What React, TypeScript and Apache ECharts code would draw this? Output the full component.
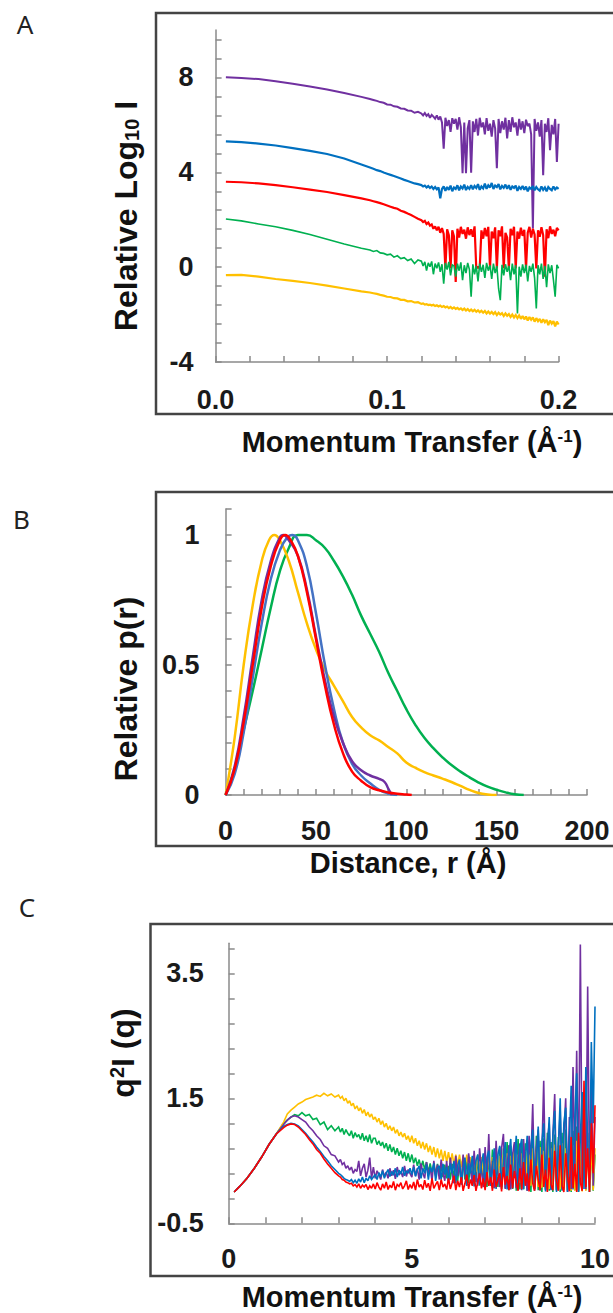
import React, { useEffect, useRef } from "react";
import * as echarts from "echarts";

// ---------- Panel A : log intensity vs q ----------
const qA = [
  0.006, 0.015, 0.025, 0.035, 0.045, 0.055, 0.065, 0.075, 0.085,
  0.090, 0.092, 0.094, 0.096, 0.098, 0.100, 0.102, 0.104, 0.106, 0.108,
  0.110, 0.112, 0.114, 0.116, 0.118,
  0.120, 0.121, 0.122, 0.123, 0.124, 0.125, 0.126, 0.127, 0.128, 0.129,
  0.130, 0.131, 0.132, 0.133, 0.134, 0.135, 0.136, 0.137, 0.138, 0.139,
  0.140, 0.141, 0.142, 0.143, 0.144, 0.145, 0.146, 0.147, 0.148, 0.149,
  0.150, 0.151, 0.152, 0.153, 0.154, 0.155, 0.156, 0.157, 0.158, 0.159,
  0.160, 0.161, 0.162, 0.163, 0.164, 0.165, 0.166, 0.167, 0.168, 0.169,
  0.170, 0.171, 0.172, 0.173, 0.174, 0.175, 0.176, 0.177, 0.178, 0.179,
  0.180, 0.181, 0.182, 0.183, 0.184, 0.185, 0.186, 0.187, 0.188, 0.189,
  0.190, 0.191, 0.192, 0.193, 0.194, 0.195, 0.196, 0.197, 0.198, 0.199,
  0.200,
];
const purpleA = [
  8.01, 7.98, 7.93, 7.84, 7.73, 7.62, 7.49, 7.34, 7.18,
  7.09, 7.05, 7.01, 6.96, 6.93, 6.86, 6.85, 6.78, 6.76, 6.69,
  6.68, 6.61, 6.6, 6.51, 6.55,
  6.48, 6.40, 6.50, 6.38, 6.45, 6.30, 6.42, 6.35, 6.26, 6.40,
  6.22, 6.35, 6.10, 5.00, 6.30, 5.95, 6.20, 5.70, 6.28, 6.05,
  6.25, 5.80, 6.32, 5.90, 3.96, 6.10, 3.96, 5.85, 6.20, 3.98,
  6.15, 5.70, 6.25, 5.55, 6.30, 5.90, 6.10, 5.60, 6.28, 5.75,
  6.05, 5.50, 6.20, 5.85, 4.17, 6.25, 5.65, 6.15, 5.80, 6.30,
  5.43, 6.20, 5.70, 6.32, 5.90, 6.10, 5.55, 6.25, 5.80, 6.15,
  5.65, 6.22, 5.95, 6.05, 5.60, 1.63, 6.25, 5.75, 6.10, 5.50,
  6.20, 3.88, 6.05, 5.70, 6.28, 4.93, 6.00, 5.60, 6.25, 4.44,
  6.05,
];
const blueA = [
  5.3, 5.27, 5.21, 5.13, 5.02, 4.9, 4.77, 4.58, 4.33,
  4.2, 4.15, 4.09, 4.05, 3.99, 3.94, 3.89, 3.84, 3.79, 3.74,
  3.68, 3.63, 3.58, 3.53, 3.5,
  3.46, 3.40, 3.44, 3.36, 3.42, 3.34, 3.40, 3.30, 3.38, 3.28,
  3.36, 2.90, 3.30, 3.40, 3.22, 3.38, 3.26, 3.44, 3.20, 3.36,
  3.30, 3.45, 3.24, 3.40, 3.32, 3.48, 3.25, 3.38, 3.30, 3.46,
  3.28, 3.42, 3.34, 3.50, 3.26, 3.40, 3.32, 3.52, 3.30, 3.45,
  3.36, 3.55, 3.30, 3.44, 3.38, 3.50, 3.28, 3.42, 3.34, 3.48,
  3.30, 3.46, 3.26, 3.40, 3.34, 3.44, 3.22, 3.38, 3.30, 3.42,
  3.26, 3.40, 3.20, 3.36, 3.30, 3.42, 3.24, 3.38, 3.28, 3.22,
  3.40, 3.26, 3.36, 3.20, 3.38, 3.30, 3.24, 3.40, 3.28, 3.36,
  3.30,
];
const redA = [
  3.6, 3.58, 3.53, 3.46, 3.37, 3.27, 3.17, 3.04, 2.9,
  2.82, 2.78, 2.74, 2.7, 2.65, 2.6, 2.55, 2.5, 2.46, 2.38,
  2.33, 2.26, 2.2, 2.12, 2.04,
  1.98, 1.90, 1.95, 1.82, 1.88, 1.75, 1.80, 1.62, 1.72, 1.55,
  1.70, 1.45, 1.65, 1.40, -0.05, 1.60, 1.35, -0.05, 1.55, 1.30,
  -0.62, 1.62, 1.25, 1.70, 1.40, 1.58, 1.20, 1.68, 1.35, 1.60,
  1.28, 1.72, -0.05, 0.00, -0.05, 1.55, 1.20, 1.65, 1.30, 1.70,
  -0.05, 1.50, 1.22, 1.68, -0.05, 1.55, 1.30, 1.72, -0.05, 1.45,
  1.25, -0.05, 1.62, 1.35, 1.70, -0.05, 1.50, 1.20, 1.66, 1.32,
  1.58, -0.05, 1.45, 1.70, 1.25, 1.62, 1.38, -0.05, 1.55, 1.28,
  1.68, 1.35, -0.40, 1.60, 1.22, 1.72, 1.40, 1.58, 1.30, 1.65,
  1.55,
];
const greenA = [
  2.03, 1.95, 1.82, 1.7, 1.55, 1.38, 1.18, 0.98, 0.8,
  0.72, 0.66, 0.7, 0.6, 0.58, 0.52, 0.55, 0.42, 0.48, 0.36,
  0.4, 0.28, 0.34, 0.15, 0.3,
  0.25, 0.05, 0.22, -0.15, 0.18, 0.02, 0.24, -0.30, 0.15, -0.05,
  0.20, -0.20, 0.12, -0.70, 0.18, -0.10, 0.22, -0.35, 0.10, 0.05,
  -0.40, 0.15, -0.15, 0.20, -0.55, 0.08, -0.25, 0.18, -0.10, -1.25,
  0.12, -0.30, 0.05, -0.60, 0.15, -0.20, 0.10, -0.45, 0.18, -0.15,
  0.08, -0.50, 0.15, -0.25, 0.05, -0.90, -1.39, 0.10, -0.35, 0.12,
  -0.20, 0.05, -0.55, 0.15, -0.30, 0.08, -1.95, 0.02, -0.40, 0.12,
  -0.25, 0.10, -0.60, 0.05, -0.20, 0.15, -0.45, -1.74, 0.08, -0.30,
  0.15, -0.50, 0.05, -0.85, 0.12, -0.25, 0.08, -0.55, -1.25, 0.10,
  -0.05,
];
const yellowA = [
  -0.34, -0.33, -0.4, -0.5, -0.58, -0.67, -0.78, -0.9, -1.02,
  -1.07, -1.1, -1.13, -1.17, -1.2, -1.25, -1.26, -1.31, -1.32, -1.38,
  -1.38, -1.44, -1.43, -1.49, -1.48,
  -1.55, -1.53, -1.58, -1.56, -1.60, -1.58, -1.62, -1.59, -1.64, -1.61,
  -1.66, -1.62, -1.68, -1.64, -1.70, -1.66, -1.73, -1.68, -1.75, -1.70,
  -1.76, -1.72, -1.78, -1.74, -1.81, -1.75, -1.83, -1.77, -1.85, -1.79,
  -1.86, -1.80, -1.88, -1.82, -1.90, -1.84, -1.92, -1.85, -1.95, -1.87,
  -1.96, -1.89, -1.98, -1.90, -2.02, -1.92, -2.00, -1.94, -2.06, -1.95,
  -2.05, -1.98, -2.10, -2.00, -2.12, -2.02, -2.15, -2.04, -2.18, -2.06,
  -2.20, -2.08, -2.25, -2.10, -2.22, -2.12, -2.30, -2.15, -2.28, -2.18,
  -2.35, -2.20, -2.32, -2.22, -2.45, -2.25, -2.38, -2.28, -2.50, -2.30,
  -2.42,
];
const yTicksA = [-4, -3.2, -2.4, -1.6, -0.8, 0, 0.8, 1.6, 2.4, 3.2, 4, 4.8, 5.6, 6.4, 7.2, 8, 8.8, 9.6];
const yLabelsA = [-4, 0, 4, 8];
const xTicksA = [0, 0.02, 0.04, 0.06, 0.08, 0.1, 0.12, 0.14, 0.16, 0.18, 0.2];
const xLabelsA = [0, 0.1, 0.2];

// ---------- Panel B : pair distance distribution ----------
const rPurple = [0, 5, 10, 15, 20, 25, 30, 32, 35, 40, 45, 50, 55, 60, 65, 70, 75, 80, 85, 88, 90, 92];
const pPurple = [0, 0.11, 0.3, 0.53, 0.75, 0.9, 0.99, 1.0, 0.98, 0.92, 0.79, 0.61, 0.44, 0.3, 0.2, 0.13, 0.095, 0.075, 0.062, 0.05, 0.025, 0];
const rBlue = [0, 5, 10, 15, 20, 25, 30, 34, 37, 40, 45, 50, 55, 60, 65, 70, 75, 80, 85, 90, 95];
const pBlue = [0, 0.08, 0.24, 0.45, 0.66, 0.83, 0.94, 0.99, 1.0, 0.98, 0.88, 0.7, 0.5, 0.33, 0.2, 0.12, 0.075, 0.045, 0.02, 0.006, 0];
const rRed = [0, 5, 10, 15, 20, 25, 30, 33, 36, 40, 45, 50, 55, 60, 65, 70, 75, 80, 85, 90, 95, 100, 103];
const pRed = [0, 0.1, 0.28, 0.5, 0.72, 0.88, 0.98, 1.0, 0.98, 0.92, 0.78, 0.6, 0.42, 0.27, 0.16, 0.09, 0.055, 0.03, 0.018, 0.01, 0.005, 0.002, 0];
const rGreen = [0, 5, 10, 15, 20, 25, 30, 35, 40, 45, 50, 55, 60, 65, 70, 75, 80, 85, 90, 95, 100, 105, 110, 115, 120, 125, 130, 135, 140, 145, 150, 155, 160, 165];
const pGreen = [0, 0.1, 0.25, 0.4, 0.56, 0.72, 0.86, 0.95, 1.0, 1.0, 0.98, 0.95, 0.9, 0.84, 0.77, 0.69, 0.62, 0.55, 0.47, 0.4, 0.33, 0.27, 0.22, 0.18, 0.145, 0.115, 0.09, 0.068, 0.048, 0.032, 0.02, 0.01, 0.003, 0];
const rYellow = [0, 5, 10, 15, 20, 24, 27, 30, 35, 40, 45, 50, 55, 60, 65, 70, 75, 80, 85, 90, 95, 100, 105, 110, 115, 120, 125, 130, 135, 140, 145, 150];
const pYellow = [0, 0.22, 0.5, 0.73, 0.9, 0.98, 1.0, 0.98, 0.9, 0.78, 0.66, 0.56, 0.48, 0.42, 0.36, 0.3, 0.26, 0.23, 0.21, 0.185, 0.16, 0.125, 0.105, 0.088, 0.075, 0.063, 0.05, 0.035, 0.02, 0.008, 0.002, 0];
const yTicksB = [0, 0.1, 0.2, 0.3, 0.4, 0.5, 0.6, 0.7, 0.8, 0.9, 1.0, 1.1];
const yLabelsB = [0, 0.5, 1];
const xTicksB = [0, 10, 20, 30, 40, 50, 60, 70, 80, 90, 100, 110, 120, 130, 140, 150, 160, 170, 180, 190, 200];
const xLabelsB = [0, 50, 100, 150, 200];

// ---------- Panel C : Kratky plot ----------
const qC = [
  0.15, 0.3, 0.5, 0.7, 0.9, 1.1, 1.3, 1.5,
  1.6, 1.7, 1.8, 1.9, 2.0, 2.1, 2.2, 2.3, 2.4, 2.5, 2.6, 2.7, 2.8, 2.9,
  3.0, 3.05, 3.1, 3.15, 3.2, 3.25, 3.3, 3.35, 3.4, 3.45, 3.5, 3.55, 3.6, 3.65, 3.7, 3.75, 3.8, 3.85, 3.9, 3.95,
  4.0, 4.05, 4.1, 4.15, 4.2, 4.25, 4.3, 4.35, 4.4, 4.45, 4.5, 4.55, 4.6, 4.65, 4.7, 4.75, 4.8, 4.85, 4.9, 4.95,
  5.0, 5.05, 5.1, 5.15, 5.2, 5.25, 5.3, 5.35, 5.4, 5.45, 5.5, 5.55, 5.6, 5.65, 5.7, 5.75, 5.8, 5.85, 5.9, 5.95,
  6.0, 6.05, 6.1, 6.15, 6.2, 6.25, 6.3, 6.35, 6.4, 6.45, 6.5, 6.55, 6.6, 6.65, 6.7, 6.75, 6.8, 6.85, 6.9, 6.95,
  7.0, 7.05, 7.1, 7.15, 7.2, 7.25, 7.3, 7.35, 7.4, 7.45, 7.5, 7.55, 7.6, 7.65, 7.7, 7.75, 7.8, 7.85, 7.9, 7.95,
  8.0, 8.05, 8.1, 8.15, 8.2, 8.25, 8.3, 8.35, 8.4, 8.45, 8.5, 8.55, 8.6, 8.65, 8.7, 8.75, 8.8, 8.85, 8.9, 8.95,
  9.0, 9.05, 9.1, 9.15, 9.2, 9.25, 9.3, 9.35, 9.4, 9.45, 9.5, 9.55, 9.6, 9.65, 9.7, 9.75, 9.8, 9.85, 9.9, 9.95,
  10.0,
];
const greenC = [
  0.0, 0.09, 0.22, 0.38, 0.56, 0.76, 0.93, 1.1,
  1.15, 1.2, 1.24, 1.22, 1.27, 1.22, 1.24, 1.16, 1.18, 1.08, 1.12, 1.0, 1.06, 0.98,
  1.04, 0.96, 1.02, 0.92, 1.0, 0.94, 0.9, 0.98, 0.86, 0.95, 0.88, 0.92, 0.84, 0.94, 0.82, 0.9, 0.8, 0.92, 0.78, 0.86,
  0.86, 0.76, 0.82, 0.74, 0.8, 0.7, 0.78, 0.66, 0.76, 0.64, 0.72, 0.6, 0.7, 0.58, 0.66, 0.54, 0.64, 0.5, 0.62, 0.48,
  0.6, 0.46, 0.55, 0.42, 0.52, 0.38, 0.5, 0.36, 0.48, 0.32, 0.46, 0.3, 0.44, 0.28, 0.45, 0.26, 0.42, 0.24, 0.44, 0.22,
  0.42, 0.2, 0.45, 0.22, 0.48, 0.18, 0.46, 0.16, 0.5, 0.2, 0.52, 0.14, 0.5, 0.12, 0.55, 0.16, 0.58, 0.1, 0.55, 0.12,
  0.62, 0.08, 0.6, 0.1, 0.68, 0.06, 0.64, 0.08, 0.72, 0.05, 0.7, 0.06, 0.8, 0.03, 0.74, 0.05, 0.76, 0.02, 0.85, 0.04,
  0.85, 0.04, 0.78, 0.02, 0.8, 0.0, 0.88, 0.05, 0.9, 0.03, 0.82, 0.0, 0.86, 0.04, 0.95, 0.02, 0.8, 0.0, 0.92, 0.03,
  0.88, 0.0, 0.95, 0.04, 1.0, 0.02, 0.9, 0.0, 0.98, 0.03, 1.05, 0.0, 0.9, 0.02, 1.0, 0.03, 0.95, 0.0, 0.85, 0.02,
  0.6,
];
const yellowC = [
  0.0, 0.09, 0.22, 0.38, 0.56, 0.76, 0.93, 1.12,
  1.25, 1.31, 1.36, 1.41, 1.44, 1.48, 1.5, 1.52, 1.55, 1.53, 1.58, 1.54, 1.57, 1.52,
  1.55, 1.5, 1.53, 1.46, 1.5, 1.42, 1.46, 1.38, 1.42, 1.33, 1.38, 1.3, 1.35, 1.26, 1.32, 1.22, 1.28, 1.2, 1.25, 1.16,
  1.2, 1.12, 1.18, 1.08, 1.14, 1.04, 1.1, 1.0, 1.06, 0.98, 1.04, 0.94, 1.0, 0.9, 0.96, 0.88, 0.94, 0.84, 0.9, 0.8,
  0.9, 0.78, 0.86, 0.74, 0.82, 0.7, 0.8, 0.68, 0.78, 0.64, 0.74, 0.6, 0.72, 0.56, 0.7, 0.54, 0.68, 0.5, 0.66, 0.48,
  0.64, 0.46, 0.62, 0.44, 0.6, 0.42, 0.6, 0.4, 0.58, 0.38, 0.6, 0.36, 0.56, 0.34, 0.58, 0.32, 0.6, 0.3, 0.56, 0.3,
  0.58, 0.28, 0.6, 0.26, 0.56, 0.25, 0.62, 0.24, 0.58, 0.22, 0.6, 0.2, 0.62, 0.2, 0.58, 0.18, 0.64, 0.16, 0.6, 0.15,
  0.62, 0.14, 0.66, 0.12, 0.6, 0.1, 0.7, 0.1, 0.65, 0.08, 0.72, 0.07, 0.66, 0.06, 0.74, 0.05, 0.7, 0.05, 0.76, 0.04,
  0.72, 0.04, 0.78, 0.03, 0.7, 0.03, 0.8, 0.02, 0.75, 0.02, 0.82, 0.02, 0.78, 0.01, 0.85, 0.02, 0.8, 0.01, 0.78, 0.03,
  0.7,
];
const purpleC = [
  0.0, 0.09, 0.22, 0.38, 0.56, 0.76, 0.93, 1.08,
  1.15, 1.2, 1.22, 1.2, 1.16, 1.12, 1.04, 0.98, 0.9, 0.84, 0.74, 0.7, 0.6, 0.58,
  0.48, 0.52, 0.44, 0.47, 0.38, 0.42, 0.35, 0.4, 0.3, 0.36, 0.33, 0.5, 0.26, 0.38, 0.45, 0.24, 0.35, 0.55, 0.22, 0.4,
  0.22, 0.34, 0.28, 0.2, 0.36, 0.25, 0.32, 0.22, 0.38, 0.26, 0.35, 0.21, 0.4, 0.27, 0.33, 0.24, 0.42, 0.25, 0.36, 0.3,
  0.24, 0.44, 0.26, 0.38, 0.2, 0.46, 0.3, 0.22, 0.48, 0.28, 0.4, 0.18, 0.5, 0.26, 0.44, 0.2, 0.52, 0.3, 0.18, 0.5,
  0.16, 0.55, 0.3, 0.14, 0.58, 0.26, 0.45, 0.12, 0.6, 0.3, 0.1, 0.62, 0.4, 0.12, 0.66, 0.25, 0.1, 0.7, 0.35, 0.08,
  0.72, 0.2, 0.93, 0.1, 0.5, 0.06, 0.82, 0.3, 0.08, 0.7, 0.93, 0.05, 0.4, 0.75, 0.04, 0.6, 0.8, 0.06, 0.45, 0.78,
  0.03, 0.85, 0.3, 0.02, 0.9, 0.5, 1.41, 0.05, 0.7, 1.0, 0.02, 0.6, 1.78, 0.03, 0.8, 1.1, 0.04, 0.9, 1.57, 0.02,
  0.7, 1.3, 0.04, 0.9, 1.5, 0.0, 1.2, 0.05, 2.0, 0.3, 2.26, 0.02, 3.96, 0.1, 1.4, 0.05, 3.29, 0.2, 1.8, 0.1,
  1.2,
];
const blueC = [
  0.0, 0.09, 0.22, 0.38, 0.56, 0.76, 0.93, 1.05,
  1.08, 1.1, 1.09, 1.06, 1.0, 0.94, 0.87, 0.8, 0.72, 0.65, 0.57, 0.5, 0.42, 0.36,
  0.3, 0.28, 0.25, 0.22, 0.2, 0.19, 0.17, 0.2, 0.15, 0.19, 0.14, 0.21, 0.16, 0.24, 0.15, 0.22, 0.18, 0.26, 0.2, 0.24,
  0.28, 0.2, 0.31, 0.24, 0.34, 0.22, 0.3, 0.36, 0.25, 0.33, 0.27, 0.38, 0.24, 0.35, 0.29, 0.4, 0.26, 0.34, 0.3, 0.38,
  0.28, 0.4, 0.25, 0.36, 0.42, 0.22, 0.38, 0.3, 0.44, 0.2, 0.4, 0.32, 0.46, 0.18, 0.38, 0.42, 0.2, 0.45, 0.28, 0.4,
  0.16, 0.46, 0.3, 0.5, 0.14, 0.42, 0.52, 0.12, 0.38, 0.55, 0.1, 0.46, 0.3, 0.58, 0.09, 0.5, 0.6, 0.12, 0.44, 0.62,
  0.07, 0.55, 0.66, 0.1, 0.4, 0.7, 0.05, 0.6, 0.74, 0.08, 0.5, 0.8, 0.04, 0.62, 0.85, 0.06, 0.45, 0.9, 0.03, 0.7,
  0.85, 0.05, 0.55, 0.9, 0.03, 0.7, 1.0, 0.02, 0.45, 1.05, 0.04, 0.8, 1.1, 0.01, 0.6, 1.2, 0.03, 0.9, 1.3, 0.0,
  0.7, 1.5, 0.02, 1.1, 1.35, 0.0, 0.8, 1.7, 0.04, 1.2, 1.9, 0.0, 0.9, 1.6, 0.05, 2.0, 0.8, 0.0, 2.4, 1.1,
  2.97,
];
const redC = [
  0.0, 0.09, 0.22, 0.38, 0.56, 0.76, 0.93, 1.03,
  1.07, 1.09, 1.08, 1.04, 0.98, 0.92, 0.84, 0.77, 0.68, 0.62, 0.53, 0.45, 0.38, 0.31,
  0.26, 0.24, 0.2, 0.19, 0.16, 0.15, 0.13, 0.14, 0.1, 0.12, 0.08, 0.13, 0.06, 0.11, 0.08, 0.12, 0.04, 0.1, 0.06, 0.13,
  0.05, 0.15, 0.08, 0.03, 0.13, 0.06, 0.16, 0.04, 0.11, 0.07, 0.17, 0.03, 0.12, 0.09, 0.15, 0.05, 0.1, 0.18, 0.04, 0.12,
  0.06, 0.16, 0.03, 0.2, 0.08, 0.12, 0.04, 0.19, 0.07, 0.14, 0.02, 0.22, 0.06, 0.12, 0.17, 0.03, 0.2, 0.08, 0.13, 0.04,
  0.22, 0.05, 0.15, 0.26, 0.03, 0.18, 0.08, 0.24, 0.02, 0.14, 0.28, 0.05, 0.2, 0.1, 0.27, 0.02, 0.16, 0.3, 0.06, 0.22,
  0.03, 0.32, 0.1, 0.24, 0.02, 0.36, 0.08, 0.2, 0.3, 0.01, 0.4, 0.12, 0.26, 0.03, 0.44, 0.06, 0.34, 0.15, 0.02, 0.38,
  0.05, 0.48, 0.1, 0.3, 0.01, 0.52, 0.14, 0.02, 0.42, 0.2, 0.03, 0.6, 0.08, 0.36, 0.0, 0.55, 0.12, 0.03, 0.66, 0.18,
  0.02, 0.75, 0.1, 0.0, 0.62, 0.25, 0.01, 0.88, 0.06, 0.45, 0.0, 0.95, 0.15, 0.02, 1.78, 0.08, 0.7, 0.0, 1.1, 0.3,
  1.39,
];
const yTicksC = [-0.5, -0.1, 0.3, 0.7, 1.1, 1.5, 1.9, 2.3, 2.7, 3.1, 3.5, 3.9];
const yLabelsC = [-0.5, 1.5, 3.5];
const xTicksC = [0, 1, 2, 3, 4, 5, 6, 7, 8, 9, 10];
const xLabelsC = [0, 5, 10];

const PURPLE = "#7030A0";
const BLUE = "#0070C0";
const BLUE_B = "#4472C4";
const RED = "#FF0000";
const GREEN = "#00B050";
const YELLOW = "#FFC000";

const FONT = "'Liberation Sans', Arial, Helvetica, sans-serif";
const AXIS_GRAY = "#8a8a8a";

function pairs(xs: number[], ys: number[]) {
  return xs.map((x, i) => [x, ys[i]]);
}

function makeAxis(
  gridIndex: number,
  min: number,
  max: number,
  ticks: number[],
  labels: number[],
  fmt: (v: number) => string,
  margin: number
) {
  return {
    type: "value",
    gridIndex,
    min,
    max,
    axisLine: { show: true, onZero: false, lineStyle: { color: AXIS_GRAY, width: 1.5 } },
    axisTick: {
      show: true,
      inside: true,
      length: 6,
      customValues: ticks,
      lineStyle: { color: AXIS_GRAY, width: 1.5 },
    },
    axisLabel: {
      show: true,
      customValues: labels,
      formatter: fmt,
      margin,
      fontFamily: FONT,
      fontWeight: "bold",
      fontSize: 27,
      color: "#1a1a1a",
    },
    splitLine: { show: false },
    minorTick: { show: false },
  };
}

function line(name: string, xi: number, data: number[][], color: string, width: number, smooth = false) {
  return {
    name,
    type: "line",
    xAxisIndex: xi,
    yAxisIndex: xi,
    data,
    showSymbol: false,
    symbol: "none",
    smooth,
    lineStyle: { color, width, join: "miter", miterLimit: 2 },
    itemStyle: { color },
  };
}

function title(text: string, x: number, y: number, rich: any, vertical = false) {
  return {
    type: "text",
    x,
    y,
    rotation: vertical ? Math.PI / 2 : 0,
    style: {
      text,
      rich,
      align: "center",
      verticalAlign: "middle",
      fill: "#111",
    },
  };
}

const richBig = {
  m: { fontFamily: FONT, fontWeight: "bold", fontSize: 32, color: "#111" },
  s: { fontFamily: FONT, fontWeight: "bold", fontSize: 20, color: "#111", verticalAlign: "bottom" },
  u: { fontFamily: FONT, fontWeight: "bold", fontSize: 20, color: "#111", verticalAlign: "top" },
};
const richX = {
  m: { fontFamily: FONT, fontWeight: "bold", fontSize: 29, color: "#111" },
  u: { fontFamily: FONT, fontWeight: "bold", fontSize: 17, color: "#111", verticalAlign: "top" },
};
const PANEL_FONT = "26px 'Noto Sans', 'Open Sans', sans-serif";

export default function App() {
  const ref = useRef<HTMLDivElement>(null);
  useEffect(() => {
    if (!ref.current) return;
    const chart = echarts.init(ref.current, null, { renderer: "svg" });
    const option: any = {
      animation: false,
      backgroundColor: "#ffffff",
      grid: [
        { left: 215.6, top: 30, width: 343, height: 332, outerBoundsMode: "none", containLabel: false },
        { left: 225.6, top: 509, width: 361.4, height: 286, outerBoundsMode: "none", containLabel: false },
        { left: 228.7, top: 943.3, width: 366.3, height: 280, outerBoundsMode: "none", containLabel: false },
      ],
      xAxis: [
        makeAxis(0, 0, 0.2, xTicksA, xLabelsA, (v: number) => v.toFixed(1), 24),
        makeAxis(1, 0, 200, xTicksB, xLabelsB, (v: number) => String(v), 22),
        makeAxis(2, 0, 10, xTicksC, xLabelsC, (v: number) => String(v), 22),
      ],
      yAxis: [
        makeAxis(0, -4, 10, yTicksA, yLabelsA, (v: number) => String(v), 22),
        makeAxis(1, 0, 1.1, yTicksB, yLabelsB, (v: number) => String(v), 26),
        makeAxis(2, -0.5, 3.98, yTicksC, yLabelsC, (v: number) => String(v), 25),
      ],
      series: [
        line("purple A", 0, pairs(qA, purpleA), PURPLE, 2),
        line("blue A", 0, pairs(qA, blueA), BLUE, 2.2),
        line("red A", 0, pairs(qA, redA), RED, 2.2),
        line("green A", 0, pairs(qA, greenA), GREEN, 1.6),
        line("yellow A", 0, pairs(qA, yellowA), YELLOW, 2.2),

        line("green B", 1, pairs(rGreen, pGreen), GREEN, 2.5, true),
        line("yellow B", 1, pairs(rYellow, pYellow), YELLOW, 2.5, true),
        line("blue B", 1, pairs(rBlue, pBlue), BLUE_B, 2.5, true),
        line("purple B", 1, pairs(rPurple, pPurple), PURPLE, 2.5, true),
        line("red B", 1, pairs(rRed, pRed), RED, 2.5, true),

        line("green C", 2, pairs(qC, greenC), GREEN, 1.6),
        line("yellow C", 2, pairs(qC, yellowC), YELLOW, 1.6),
        line("purple C", 2, pairs(qC, purpleC), PURPLE, 1.6),
        line("blue C", 2, pairs(qC, blueC), BLUE, 1.6),
        line("red C", 2, pairs(qC, redC), RED, 1.6),
      ],
      graphic: [
        { type: "rect", shape: { x: 156, y: 13, width: 480, height: 401 }, style: { fill: "none", stroke: "#444", lineWidth: 2.5 } },
        { type: "rect", shape: { x: 156, y: 492, width: 480, height: 354 }, style: { fill: "none", stroke: "#444", lineWidth: 2.5 } },
        { type: "rect", shape: { x: 150.5, y: 924, width: 480, height: 352 }, style: { fill: "none", stroke: "#444", lineWidth: 2.5 } },
        { type: "text", x: 25, y: 24, style: { text: "A", font: PANEL_FONT, fill: "#222", align: "center", verticalAlign: "middle" } },
        { type: "text", x: 21.5, y: 518.5, style: { text: "B", font: PANEL_FONT, fill: "#222", align: "center", verticalAlign: "middle" } },
        { type: "text", x: 27, y: 906.5, style: { text: "C", font: PANEL_FONT, fill: "#222", align: "center", verticalAlign: "middle" } },
        title("{m|Relative Log}{s|10}{m| I}", 126, 216, richBig, true),
        title("{m|Momentum Transfer (Å}{u|-1}{m|)}", 412, 442, richX),
        title("{m|Relative p(r)}", 126, 689, richBig, true),
        title("{m|Distance, r (Å)}", 408, 863, richX),
        title("{m|q}{u|2}{m|I (q)}", 123, 1053, richBig, true),
        title("{m|Momentum Transfer (Å}{u|-1}{m|)}", 412, 1297, richX),
      ],
    };
    chart.setOption(option);
    return () => chart.dispose();
  }, []);
  return (
    <div
      ref={ref}
      style={{ position: "absolute", left: 0, top: 0, width: 613, height: 1313, background: "#fff" }}
    />
  );
}
